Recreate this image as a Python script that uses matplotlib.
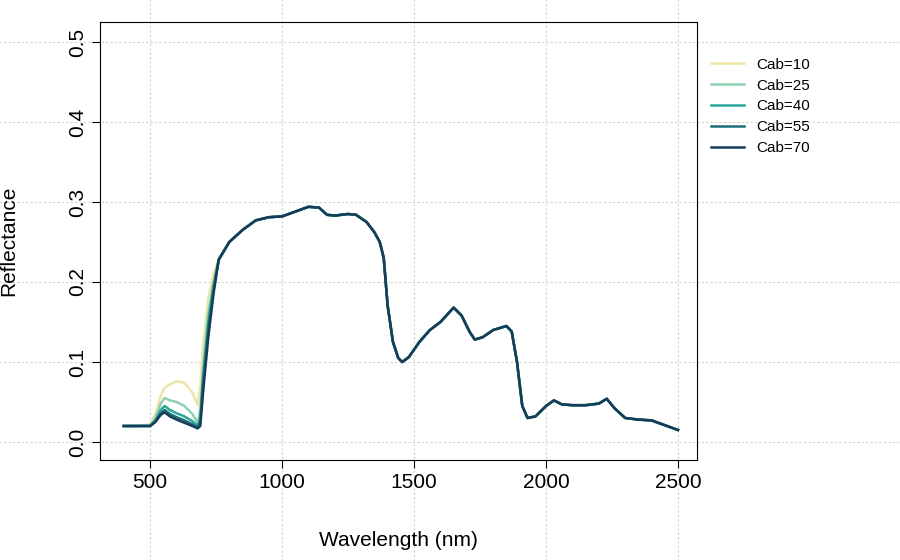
import numpy as np
import matplotlib.pyplot as plt

plt.rcParams['font.family'] = ['Liberation Sans', 'DejaVu Sans']

# visible range, one head per chlorophyll level
wl_head = [400, 450, 500, 520, 540, 555, 575, 600, 630, 660, 680, 690, 700, 720, 740]
cab10 = [0.020, 0.020, 0.022, 0.035, 0.058, 0.068, 0.072, 0.076, 0.074, 0.062, 0.046, 0.070, 0.120, 0.180, 0.210]
cab25 = [0.020, 0.020, 0.021, 0.030, 0.048, 0.055, 0.052, 0.050, 0.045, 0.035, 0.024, 0.040, 0.090, 0.160, 0.200]
cab40 = [0.020, 0.020, 0.020, 0.027, 0.040, 0.045, 0.040, 0.036, 0.032, 0.026, 0.020, 0.030, 0.080, 0.150, 0.195]
cab55 = [0.020, 0.020, 0.020, 0.026, 0.036, 0.040, 0.035, 0.031, 0.027, 0.022, 0.018, 0.025, 0.070, 0.140, 0.190]
cab70 = [0.020, 0.020, 0.020, 0.025, 0.034, 0.037, 0.032, 0.028, 0.024, 0.020, 0.017, 0.020, 0.060, 0.130, 0.185]

# shared NIR/SWIR part
wl_tail = [760, 800, 850, 900, 950, 1000, 1050, 1100, 1140, 1170, 1200, 1250, 1280, 1320, 1350,
           1370, 1385, 1400, 1420, 1440, 1455, 1480, 1520, 1560, 1600, 1650, 1680, 1710, 1730, 1760, 1800,
           1850, 1870, 1890, 1910, 1930, 1960, 2000, 2030, 2060, 2100, 2150, 2200, 2230, 2260,
           2300, 2350, 2400, 2450, 2500]
tail = [0.228, 0.250, 0.265, 0.277, 0.281, 0.282, 0.288, 0.294, 0.293, 0.284, 0.283, 0.285, 0.284,
        0.275, 0.262, 0.250, 0.230, 0.170, 0.125, 0.105, 0.100, 0.106, 0.125, 0.140, 0.150, 0.168,
        0.158, 0.138, 0.128, 0.131, 0.140, 0.145, 0.138, 0.100, 0.045, 0.030, 0.032, 0.045, 0.052,
        0.047, 0.046, 0.046, 0.048, 0.054, 0.042, 0.030, 0.028, 0.027, 0.021, 0.015]

labels = ["Cab=10", "Cab=25", "Cab=40", "Cab=55", "Cab=70"]
colors = ["#EDE5A6", "#8FD0B0", "#2BA59A", "#1B6E78", "#173D5A"]
heads = [cab10, cab25, cab40, cab55, cab70]

fig = plt.figure(figsize=(9, 5.6), dpi=100)
ax = fig.add_axes([100 / 900, 100 / 560, 597 / 900, 438 / 560])

# R-style dotted grid running across the whole figure
for v in [500, 1000, 1500, 2000, 2500]:
    ax.axvline(v, ymin=-1, ymax=2, color="#d3d3d3", ls=(0, (2, 2)), lw=0.8, clip_on=False, zorder=0)
for v in [0, 0.1, 0.2, 0.3, 0.4, 0.5]:
    ax.axhline(v, xmin=-1, xmax=2, color="#d3d3d3", ls=(0, (2, 2)), lw=0.8, clip_on=False, zorder=0)

for head, lab, col in zip(heads, labels, colors):
    ax.plot(wl_head + wl_tail, head + tail, color=col, lw=1.8, label=lab)

ax.set_xlim(310, 2572)
ax.set_ylim(-0.0225, 0.525)
ax.set_xticks([500, 1000, 1500, 2000, 2500])
ax.set_yticks([0, 0.1, 0.2, 0.3, 0.4, 0.5])
ax.set_yticklabels(["0.0", "0.1", "0.2", "0.3", "0.4", "0.5"], rotation=90, va="center")
ax.tick_params(labelsize=15, length=6)
ax.set_xlabel("Wavelength (nm)", fontsize=15, labelpad=28)
ax.set_ylabel("Reflectance", fontsize=15, labelpad=36)

ax.legend(loc="upper left", bbox_to_anchor=(1.0, 0.95), frameon=False, fontsize=11,
          handlelength=2.2, labelspacing=0.45)

fig.savefig("out.png")
